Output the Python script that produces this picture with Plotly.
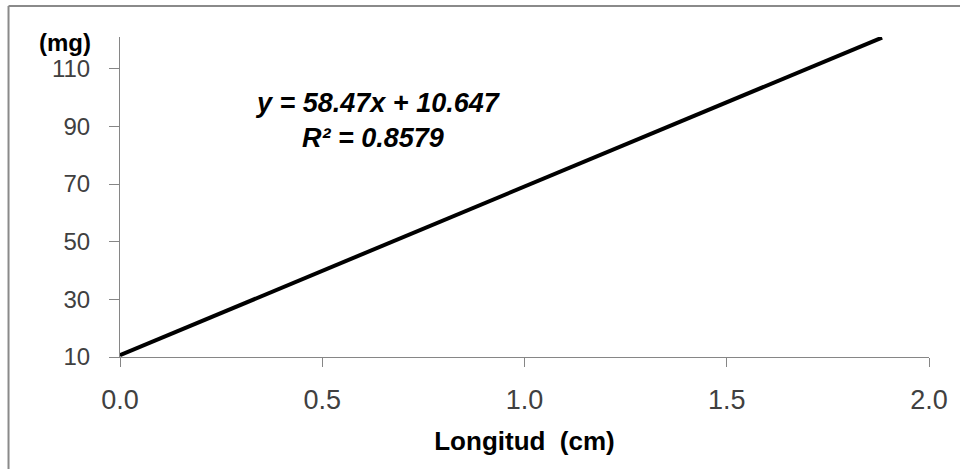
import plotly.graph_objects as go

# Trend line endpoints
x_vals = [0.0, 1.884]
y_vals = [10.65, 120.8]

x_ticks = [0.0, 0.5, 1.0, 1.5, 2.0]
x_tick_text = ["0.0", "0.5", "1.0", "1.5", "2.0"]
y_ticks = [10, 30, 50, 70, 90, 110]

equation = "y = 58.47x + 10.647"
r2_text = "R² = 0.8579"

FONT = "Liberation Sans"
AXIS_GRAY = "#868686"
TEXT_GRAY = "#404040"

fig = go.Figure()
fig.add_trace(go.Scatter(
    x=x_vals, y=y_vals, mode="lines",
    line=dict(color="black", width=4),
    showlegend=False, hoverinfo="skip",
))

fig.update_layout(
    width=960, height=469,
    margin=dict(l=120, r=27, t=37, b=112),
    paper_bgcolor="white", plot_bgcolor="white",
    font=dict(family=FONT, color=TEXT_GRAY),
    xaxis=dict(
        range=[0, 2.0], tickvals=x_ticks, ticktext=x_tick_text,
        showgrid=False, zeroline=False,
        showline=True, linecolor=AXIS_GRAY, linewidth=1,
        ticks="outside", ticklen=9, tickcolor=AXIS_GRAY,
        tickfont=dict(family=FONT, size=27, color=TEXT_GRAY),
        ticklabelstandoff=10,
        title=dict(text="<b>Longitud  (cm)</b>",
                   font=dict(family=FONT, size=26, color="black"),
                   standoff=17),
    ),
    yaxis=dict(
        range=[10, 121], tickvals=y_ticks,
        showgrid=False, zeroline=False,
        showline=True, linecolor=AXIS_GRAY, linewidth=1,
        ticks="outside", ticklen=10, tickcolor=AXIS_GRAY,
        tickfont=dict(family=FONT, size=24, color=TEXT_GRAY),
        ticklabelstandoff=14,
    ),
    annotations=[
        dict(text="<b>(mg)</b>", xref="paper", yref="paper",
             x=-0.0677, y=0.984, xanchor="center", yanchor="middle",
             showarrow=False, font=dict(family=FONT, size=24, color="black")),
        dict(text="<b><i>" + equation + "</i></b>", xref="x", yref="y",
             x=0.637, y=98.0, xanchor="center", yanchor="middle",
             showarrow=False, font=dict(family=FONT, size=27, color="black")),
        dict(text="<b><i>" + r2_text + "</i></b>", xref="x", yref="y",
             x=0.625, y=86.0, xanchor="center", yanchor="middle",
             showarrow=False, font=dict(family=FONT, size=27, color="black")),
    ],
    shapes=[
        dict(type="line", xref="paper", yref="paper",
             x0=-0.1378, x1=1.2, y0=1.097, y1=1.097,
             line=dict(color="#8a8a8a", width=2)),
        dict(type="line", xref="paper", yref="paper",
             x0=-0.1378, x1=-0.1378, y0=-0.5, y1=1.097,
             line=dict(color="#8a8a8a", width=2)),
    ],
)

fig.write_html("out.html")
